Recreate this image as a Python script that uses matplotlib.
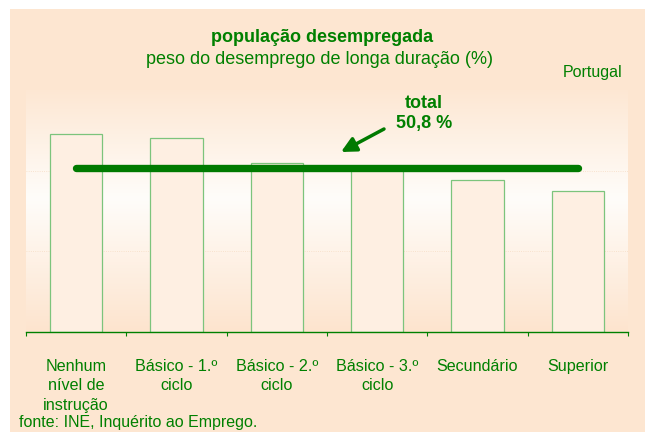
import numpy as np
import matplotlib
matplotlib.use("Agg")
import matplotlib.pyplot as plt
from matplotlib.patches import Rectangle

# ==================== DATA ====================
categories = ["Nenhum\nnível de\ninstrução", "Básico - 1.º\nciclo", "Básico - 2.º\nciclo",
              "Básico - 3.º\nciclo", "Secundário", "Superior"]
values = [61.3, 60.0, 52.5, 51.5, 47.2, 43.7]
total = 50.8
total_label = "total\n50,8 %"

green = "#008000"
plt.rcParams["font.family"] = ["Liberation Sans", "DejaVu Sans"]

fig = plt.figure(figsize=(6.48, 4.32), dpi=100, facecolor="white")

# outer peach panel
fig.patches.append(Rectangle((10 / 648, 0), 635 / 648, 1 - 9 / 432, transform=fig.transFigure,
                             facecolor="#FDE6D1", edgecolor="none", zorder=-1))

ax = fig.add_axes([26 / 648, 1 - 332 / 432, 602 / 648, 242 / 432])
ax.set_zorder(1)
ax.set_facecolor("none")

# vertical gradient background of the plot area
top_c = np.array([253, 231, 211]) / 255
mid_c = np.array([255, 253, 250]) / 255
bot_c = np.array([253, 228, 206]) / 255
t = np.linspace(0, 1, 256)
grad = np.zeros((256, 1, 3))
for i, v in enumerate(t):
    if v < 0.55:
        f = v / 0.55
        grad[i, 0] = bot_c * (1 - f) + mid_c * f
    else:
        f = (v - 0.55) / 0.45
        grad[i, 0] = mid_c * (1 - f) + top_c * f
ax.imshow(grad, extent=[0, 1, 0, 1], transform=ax.transAxes, origin="lower",
          aspect="auto", zorder=0)

x = np.arange(len(categories))
ax.set_xlim(-0.5, len(categories) - 0.5)
ax.set_ylim(0, 75)

for g in [25, 50]:
    ax.axhline(g, color="#F6DCC4", linewidth=0.6, linestyle=":", zorder=1)

ax.bar(x, values, width=0.52, facecolor="#FEEFE2", edgecolor="#7CC47C", linewidth=0.9, zorder=2)

ax.plot([0, len(categories) - 1], [total, total], color="#007A00", linewidth=5.3,
        solid_capstyle="round", zorder=3)

for s in ["top", "right", "left"]:
    ax.spines[s].set_visible(False)
ax.spines["bottom"].set_color(green)
ax.spines["bottom"].set_linewidth(1.0)
ax.set_yticks([])
ax.set_xticks(np.arange(-0.5, len(categories), 1.0))
ax.set_xticklabels([])
ax.tick_params(axis="x", direction="out", length=3, color=green, width=0.8)

for xi, lab in zip(x, categories):
    ax.text(xi, -0.11, lab, transform=ax.get_xaxis_transform(), ha="center", va="top",
            fontsize=11.6, color=green, linespacing=1.38)

# annotation
fig.text(424 / 648, 1 - 113.5 / 432, total_label, ha="center", va="center", fontsize=13,
         fontweight="bold", color=green, linespacing=1.3)
ax.annotate("", xy=(341 / 648, 1 - 152 / 432), xytext=(384 / 648, 1 - 129 / 432),
            xycoords="figure fraction", textcoords="figure fraction",
            arrowprops=dict(arrowstyle="-|>,head_length=0.9,head_width=0.45", color="#007A00",
                            linewidth=2.5, shrinkA=0, shrinkB=0))

# titles
fig.text(322 / 648, 1 - 38 / 432, "população desempregada", ha="center", va="center",
         fontsize=13, fontweight="bold", color=green)
fig.text(320 / 648, 1 - 60 / 432, "peso do desemprego de longa duração (%)", ha="center",
         va="center", fontsize=13, color=green)
fig.text(622 / 648, 1 - 73 / 432, "Portugal", ha="right", va="center", fontsize=11.5, color=green)
fig.text(19 / 648, 1 - 423 / 432, "fonte: INE, Inquérito ao Emprego.", ha="left", va="center",
         fontsize=11.5, color=green)

fig.savefig("out.png", dpi=100, facecolor="white")
